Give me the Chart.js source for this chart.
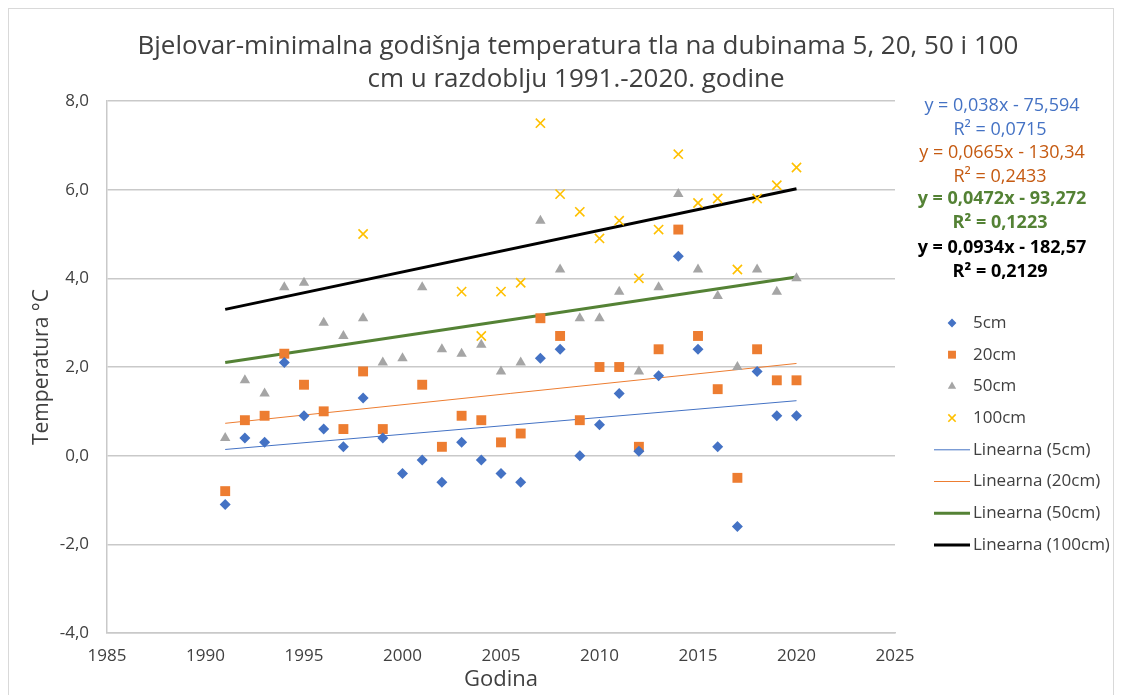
<!DOCTYPE html>
<html>
<head>
<meta charset="utf-8">
<script src="https://cdn.jsdelivr.net/npm/chart.js@4/dist/chart.umd.min.js"></script>
<style>
  html, body { margin: 0; padding: 0; background: #fff; }
  #wrap { width: 1122px; height: 695px; position: relative; }
</style>
</head>
<body>
<div id="wrap"><canvas id="chart" width="1122" height="695"></canvas></div>
<script>
'use strict';

// --- data ---
const years = [1991, 1992, 1993, 1994, 1995, 1996, 1997, 1998, 1999, 2000,
               2001, 2002, 2003, 2004, 2005, 2006, 2007, 2008, 2009, 2010,
               2011, 2012, 2013, 2014, 2015, 2016, 2017, 2018, 2019, 2020];
const t5cm   = [-1.1, 0.4, 0.3, 2.1, 0.9, 0.6, 0.2, 1.3, 0.4, -0.4,
                -0.1, -0.6, 0.3, -0.1, -0.4, -0.6, 2.2, 2.4, 0.0, 0.7,
                1.4, 0.1, 1.8, 4.5, 2.4, 0.2, -1.6, 1.9, 0.9, 0.9];
const t20cm  = [-0.8, 0.8, 0.9, 2.3, 1.6, 1.0, 0.6, 1.9, 0.6, null,
                1.6, 0.2, 0.9, 0.8, 0.3, 0.5, 3.1, 2.7, 0.8, 2.0,
                2.0, 0.2, 2.4, 5.1, 2.7, 1.5, -0.5, 2.4, 1.7, 1.7];
const t50cm  = [0.4, 1.7, 1.4, 3.8, 3.9, 3.0, 2.7, 3.1, 2.1, 2.2,
                3.8, 2.4, 2.3, 2.5, 1.9, 2.1, 5.3, 4.2, 3.1, 3.1,
                3.7, 1.9, 3.8, 5.9, 4.2, 3.6, 2.0, 4.2, 3.7, 4.0];
const t100cm = [null, null, null, null, null, null, null, 5.0, null, null,
                null, null, 3.7, 2.7, 3.7, 3.9, 7.5, 5.9, 5.5, 4.9,
                5.3, 4.0, 5.1, 6.8, 5.7, 5.8, 4.2, 5.8, 6.1, 6.5];

// trend lines (start / end of the Excel linear trendlines)
const trendYears = [1991, 2020];
const trend5cm   = [0.14, 1.24];
const trend20cm  = [0.73, 2.08];
const trend50cm  = [2.10, 4.03];
const trend100cm = [3.30, 6.02];

const equations = [
  ['y = 0,038x - 75,594', 'R² = 0,0715'],
  ['y = 0,0665x - 130,34', 'R² = 0,2433'],
  ['y = 0,0472x - 93,272', 'R² = 0,1223'],
  ['y = 0,0934x - 182,57', 'R² = 0,2129']
];
const yTicks = [-4, -2, 0, 2, 4, 6, 8];
const xTicks = [1985, 1990, 1995, 2000, 2005, 2010, 2015, 2020, 2025];

const FONT = "'Open Sans', 'Noto Sans', sans-serif";
const TXT = '#404040';
const GRID = '#c9c9c9';

const pts = (ys) => years.map((x, i) => ({x, y: ys[i]})).filter(p => p.y !== null);
const line = (ys) => trendYears.map((x, i) => ({x, y: ys[i]}));

function pointSet(label, ys, style, color, radius, bw) {
  return {label, data: pts(ys), showLine: false, pointStyle: style,
    pointRadius: radius, pointHoverRadius: radius,
    backgroundColor: color, borderColor: color, pointBorderWidth: bw || 0, order: 1};
}
function trendSet(label, ys, color, width) {
  return {label, type: 'line', data: line(ys), showLine: true, pointRadius: 0,
    borderColor: color, backgroundColor: color, borderWidth: width, fill: false, order: 2};
}

const datasets = [
  pointSet('5cm', t5cm, 'rectRot', '#4472C4', 5.5),
  pointSet('20cm', t20cm, 'rect', '#ED7D31', 7),
  pointSet('50cm', t50cm, 'triangle', '#A5A5A5', 6),
  {...pointSet('100cm', t100cm, 'crossRot', '#FFC000', 6.5, 1.6), backgroundColor: 'transparent'},
  trendSet('Linearna (5cm)', trend5cm, '#4472C4', 1),
  trendSet('Linearna (20cm)', trend20cm, '#ED7D31', 1),
  trendSet('Linearna (50cm)', trend50cm, '#548235', 3),
  trendSet('Linearna (100cm)', trend100cm, '#000000', 3)
];

const eqColors = ['#4472C4', '#C55A11', '#548235', '#000000'];

const extras = {
  id: 'extras',
  afterDraw(chart) {
    const ctx = chart.ctx, a = chart.chartArea;
    ctx.save();
    // chart border
    ctx.strokeStyle = '#d9d9d9'; ctx.lineWidth = 1;
    ctx.strokeRect(8.5, 8.5, 1105, 700);

    // title
    ctx.fillStyle = TXT; ctx.textAlign = 'center'; ctx.textBaseline = 'middle';
    ctx.font = '26px ' + FONT;
    ctx.fillText('Bjelovar-minimalna godišnja temperatura tla na dubinama 5, 20, 50 i 100', 578, 47);
    ctx.fillText('cm u razdoblju 1991.-2020. godine', 576, 80);

    // axis titles
    ctx.font = '22px ' + FONT;
    ctx.fillText('Godina', (a.left + a.right) / 2, 680);
    ctx.save();
    ctx.translate(42, (a.top + a.bottom) / 2);
    ctx.rotate(-Math.PI / 2);
    ctx.font = '21px ' + FONT;
    ctx.fillText('Temperatura °C', 0, 0);
    ctx.restore();

    // equations
    const eqY = [106, 130, 153, 177, 199, 223, 248, 272];
    equations.forEach((eq, i) => {
      ctx.fillStyle = eqColors[i];
      ctx.font = (i >= 2 ? 'bold ' : '') + '18px ' + FONT;
      ctx.fillText(eq[0], 1002, eqY[i * 2]);
      ctx.fillText(eq[1], 1000, eqY[i * 2 + 1]);
    });

    // legend
    ctx.font = '17px ' + FONT;
    ctx.textAlign = 'left';
    chart.data.datasets.forEach((ds, i) => {
      const y = 323 + i * 31.7;
      if (ds.showLine && ds.type === 'line') {
        ctx.strokeStyle = ds.borderColor; ctx.lineWidth = ds.borderWidth;
        ctx.beginPath(); ctx.moveTo(934, y); ctx.lineTo(970, y); ctx.stroke();
      } else {
        ctx.fillStyle = ds.backgroundColor; ctx.strokeStyle = ds.borderColor;
        ctx.lineWidth = ds.pointBorderWidth || 0;
        Chart.helpers.drawPoint(ctx, {pointStyle: ds.pointStyle, radius: ds.pointRadius * 0.8,
          borderWidth: ds.pointBorderWidth || 0, rotation: 0}, 952, y);
      }
      ctx.fillStyle = TXT;
      ctx.fillText(ds.label, 973, y);
    });
    ctx.restore();
  }
};

new Chart(document.getElementById('chart'), {
  type: 'scatter',
  data: {datasets},
  options: {
    responsive: false,
    animation: false,
    events: [],
    layout: {padding: {top: 101, left: 0, right: 227, bottom: 0}},
    plugins: {legend: {display: false}, title: {display: false}, tooltip: {enabled: false}},
    scales: {
      x: {
        type: 'linear', min: 1985, max: 2025,
        afterFit: s => { s.height = 62; },
        afterBuildTicks: s => { s.ticks = xTicks.map(v => ({value: v})); },
        grid: {display: false, drawTicks: false},
        border: {display: true, color: GRID, width: 1.5},
        ticks: {padding: 13, color: TXT, font: {family: FONT, size: 17}, callback: v => String(v), maxRotation: 0}
      },
      y: {
        min: -4, max: 8,
        afterFit: s => { s.width = 107; },
        afterBuildTicks: s => { s.ticks = yTicks.map(v => ({value: v})); },
        grid: {color: GRID, lineWidth: 1.5, drawTicks: false},
        border: {display: true, color: GRID, width: 1.5},
        ticks: {padding: 18, color: TXT, font: {family: FONT, size: 17},
          callback: v => v.toFixed(1).replace('.', ',')}
      }
    }
  },
  plugins: [extras]
});
</script>
</body>
</html>
